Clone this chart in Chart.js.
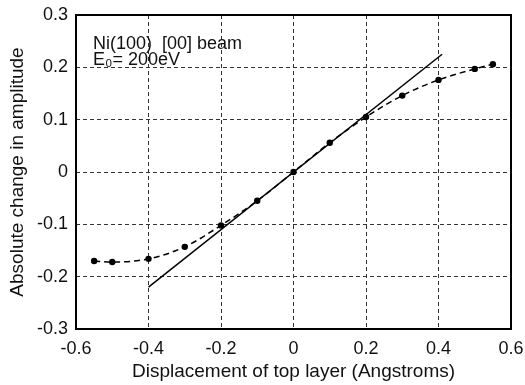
<!DOCTYPE html>
<html>
<head>
<meta charset="utf-8">
<script src="https://cdn.jsdelivr.net/npm/chart.js@4.4.0/dist/chart.umd.min.js"></script>
<style>
  html, body { margin: 0; padding: 0; background: #fff; }
  #wrap { width: 525px; height: 385px; }
</style>
</head>
<body>
<div id="wrap"><canvas id="ampChart" width="525" height="385"></canvas></div>
<script>
// measured points (dashed curve)
var dispX = [-0.55, -0.5, -0.4, -0.3, -0.2, -0.1, 0, 0.1, 0.2, 0.3, 0.4, 0.5, 0.55];
var ampY = [-0.17, -0.172, -0.166, -0.143, -0.102, -0.055, 0, 0.056, 0.105, 0.146, 0.176, 0.197, 0.206];
// linear approximation (solid line)
var linX = [-0.4, 0.41];
var linY = [-0.22, 0.225];
var xTicks = [-0.6, -0.4, -0.2, 0, 0.2, 0.4, 0.6];
var yTicks = [-0.3, -0.2, -0.1, 0, 0.1, 0.2, 0.3];
var noteLines = ['Ni(100)  [00] beam', 'E\u2080= 200eV'];

function toPoints(xs, ys) {
    var pts = [];
    for (var i = 0; i < xs.length; i++) pts.push({ x: xs[i], y: ys[i] });
    return pts;
}

function tickLabel(v) {
    if (Math.abs(v) < 1e-9) return '0';
    return String(Math.round(v * 10) / 10);
}

var frameAndNote = {
    id: 'frameAndNote',
    afterDraw: function (chart) {
        var ctx = chart.ctx, a = chart.chartArea;
        ctx.save();
        ctx.strokeStyle = '#000';
        ctx.lineWidth = 2;
        ctx.strokeRect(a.left, a.top, a.right - a.left, a.bottom - a.top);
        ctx.fillStyle = '#111';
        ctx.font = '18px "Liberation Sans", Arial, sans-serif';
        ctx.textBaseline = 'alphabetic';
        ctx.fillText(noteLines[0], a.left + 17, a.top + 34);
        ctx.fillText(noteLines[1], a.left + 17, a.top + 50);
        ctx.restore();
    }
};

Chart.defaults.font.family = '"Liberation Sans", Arial, sans-serif';
Chart.defaults.color = '#111';

new Chart(document.getElementById('ampChart').getContext('2d'), {
    type: 'scatter',
    data: {
        datasets: [
            {
                label: 'measured',
                data: toPoints(dispX, ampY),
                showLine: true,
                borderColor: '#000',
                backgroundColor: '#000',
                borderWidth: 1.5,
                borderDash: [6, 4],
                cubicInterpolationMode: 'monotone',
                pointRadius: 3.2,
                pointBorderWidth: 0
            },
            {
                label: 'linear',
                data: toPoints(linX, linY),
                showLine: true,
                borderColor: '#000',
                borderWidth: 1.5,
                pointRadius: 0
            }
        ]
    },
    options: {
        responsive: false,
        animation: false,
        layout: { padding: { top: 15, right: 14, left: 0, bottom: 0 } },
        plugins: { legend: { display: false }, tooltip: { enabled: false } },
        scales: {
            x: {
                type: 'linear',
                min: -0.6,
                max: 0.6,
                afterBuildTicks: function (s) { s.ticks = xTicks.map(function (v) { return { value: v }; }); },
                afterFit: function (s) { s.height = 56; s.paddingLeft = 0; s.paddingRight = 0; },
                ticks: { callback: tickLabel, font: { size: 18 }, padding: 9, maxRotation: 0 },
                grid: { color: '#333', lineWidth: 1, drawTicks: false },
                border: { display: false, dash: [4, 3] },
                title: { display: true, text: 'Displacement of top layer (Angstroms)', font: { size: 19 }, padding: { top: 0, bottom: 2 } }
            },
            y: {
                type: 'linear',
                min: -0.3,
                max: 0.3,
                afterBuildTicks: function (s) { s.ticks = yTicks.map(function (v) { return { value: v }; }); },
                afterFit: function (s) { s.width = 76; s.paddingTop = 0; s.paddingBottom = 0; },
                ticks: { callback: tickLabel, font: { size: 18 }, padding: 8 },
                grid: { color: '#333', lineWidth: 1, drawTicks: false },
                border: { display: false, dash: [4, 3] },
                title: { display: true, text: 'Absolute change in amplitude', font: { size: 19 }, padding: { top: 6, bottom: 0 } }
            }
        }
    },
    plugins: [frameAndNote]
});
</script>
</body>
</html>
